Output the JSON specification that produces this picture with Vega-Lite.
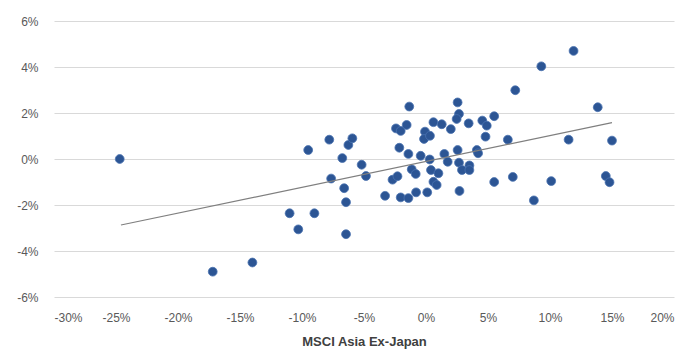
{
  "$schema": "https://vega.github.io/schema/vega-lite/v6.json",
  "width": 620,
  "height": 276,
  "autosize": {"type": "none"},
  "padding": {"left": 54, "top": 21, "right": 15, "bottom": 55},
  "background": "white",
  "config": {
    "view": {"stroke": null},
    "font": "Liberation Sans"
  },
  "datasets": {
    "pts": [
      {"x": -24.7, "y": 0.0}, {"x": -17.2, "y": -4.9}, {"x": -14.0, "y": -4.5},
      {"x": -11.0, "y": -2.36}, {"x": -10.3, "y": -3.06}, {"x": -9.0, "y": -2.36},
      {"x": -9.5, "y": 0.39}, {"x": -7.8, "y": 0.84}, {"x": -7.65, "y": -0.85},
      {"x": -6.75, "y": 0.04}, {"x": -6.6, "y": -1.27}, {"x": -6.45, "y": -1.88},
      {"x": -6.45, "y": -3.27}, {"x": -6.26, "y": 0.61}, {"x": -5.94, "y": 0.9},
      {"x": -5.19, "y": -0.25}, {"x": -4.84, "y": -0.74}, {"x": -3.3, "y": -1.6},
      {"x": -2.7, "y": -0.9}, {"x": -2.3, "y": -0.75}, {"x": -2.42, "y": 1.33},
      {"x": -2.04, "y": 1.22}, {"x": -2.15, "y": 0.49}, {"x": -2.04, "y": -1.67},
      {"x": -1.56, "y": 1.48}, {"x": -1.35, "y": 2.28}, {"x": -1.42, "y": 0.22},
      {"x": -1.42, "y": -1.7}, {"x": -1.15, "y": -0.45}, {"x": -0.83, "y": -0.65},
      {"x": -0.8, "y": -1.45}, {"x": -0.43, "y": 0.14}, {"x": -0.08, "y": 1.19},
      {"x": -0.16, "y": 0.87}, {"x": 0.32, "y": 1.01}, {"x": 0.3, "y": -0.02},
      {"x": 0.1, "y": -1.45}, {"x": 0.4, "y": -0.48}, {"x": 1.0, "y": -0.62},
      {"x": 0.6, "y": -0.99}, {"x": 0.86, "y": -1.13}, {"x": 0.6, "y": 1.6},
      {"x": 1.27, "y": 1.51}, {"x": 2.0, "y": 1.3}, {"x": 1.48, "y": 0.22},
      {"x": 1.75, "y": -0.12}, {"x": 2.55, "y": 2.46}, {"x": 2.66, "y": 1.96},
      {"x": 2.47, "y": 1.74}, {"x": 2.55, "y": 0.39}, {"x": 2.66, "y": -0.16},
      {"x": 2.9, "y": -0.48}, {"x": 3.5, "y": -0.28}, {"x": 3.5, "y": -0.48},
      {"x": 3.44, "y": 1.55}, {"x": 2.7, "y": -1.39}, {"x": 4.1, "y": 0.39},
      {"x": 4.2, "y": 0.25}, {"x": 4.54, "y": 1.67}, {"x": 4.9, "y": 1.45},
      {"x": 4.8, "y": 0.97}, {"x": 5.5, "y": 1.86}, {"x": 5.5, "y": -1.0},
      {"x": 6.6, "y": 0.84}, {"x": 7.0, "y": -0.78}, {"x": 7.2, "y": 2.99},
      {"x": 8.7, "y": -1.8}, {"x": 9.3, "y": 4.03}, {"x": 10.1, "y": -0.96},
      {"x": 11.5, "y": 0.84}, {"x": 11.9, "y": 4.7}, {"x": 13.85, "y": 2.25},
      {"x": 14.5, "y": -0.74}, {"x": 14.8, "y": -1.01}, {"x": 15.0, "y": 0.8}
    ],
    "trend": [
      {"x": -24.6, "y": -2.87},
      {"x": 15.0, "y": 1.58}
    ]
  },
  "encoding": {
    "x": {
      "field": "x", "type": "quantitative",
      "scale": {"domain": [-30, 20], "nice": false, "zero": false},
      "axis": {
        "title": "MSCI Asia Ex-Japan",
        "values": [-30, -25, -20, -15, -10, -5, 0, 5, 10, 15, 20],
        "labelExpr": "datum.value + '%'",
        "grid": false, "domain": false, "ticks": false,
        "labelPadding": 15, "labelFontSize": 12, "labelColor": "#595959",
        "titleFontSize": 13, "titleFontWeight": "bold", "titleColor": "#404040",
        "titlePadding": 12
      }
    },
    "y": {
      "field": "y", "type": "quantitative",
      "scale": {"domain": [-6, 6], "nice": false, "zero": false},
      "axis": {
        "title": null,
        "values": [-6, -4, -2, 0, 2, 4, 6],
        "labelExpr": "datum.value + '%'",
        "grid": true, "gridColor": "#D9D9D9", "gridWidth": 1,
        "domain": false, "ticks": false,
        "labelPadding": 16, "labelFontSize": 12, "labelColor": "#595959"
      }
    }
  },
  "layer": [
    {
      "mark": {"type": "rule", "color": "#808080", "strokeWidth": 1.6},
      "encoding": {"y": {"datum": 0}, "x": null}
    },
    {
      "mark": {"type": "rule", "color": "#404040", "strokeWidth": 1},
      "encoding": {"x": {"datum": 0}, "y": null}
    },
    {
      "data": {"name": "pts"},
      "mark": {"type": "point", "filled": true, "shape": "circle", "size": 78, "color": "#2C5594", "opacity": 1, "stroke": "#4A72B0", "strokeWidth": 0.8}
    },
    {
      "data": {"name": "trend"},
      "mark": {"type": "line", "color": "#7F7F7F", "strokeWidth": 1.2}
    }
  ]
}
